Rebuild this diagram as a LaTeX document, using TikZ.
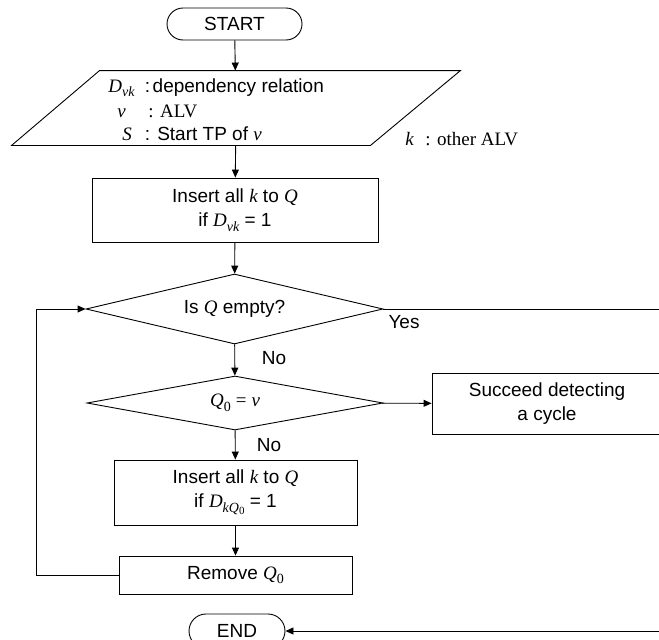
\RequirePackage{fix-cm}
\documentclass[tikz,border=0pt]{standalone}
\usepackage{fontspec}
\setmainfont{Liberation Sans}
\newfontfamily\tnr{Liberation Serif}
\newcommand\mi[1]{{\tnr\itshape #1}}
\newcommand\msub[1]{\raisebox{-4.5pt}{\fontsize{14}{14}\selectfont\tnr\itshape #1}}
\newcommand\mzero{\raisebox{-4.5pt}{\fontsize{14}{14}\selectfont\tnr 0}}
\usetikzlibrary{shapes.geometric,arrows.meta}
\begin{document}
\begin{tikzpicture}[x=1pt,y=-1pt,
  font=\fontsize{19}{24}\selectfont,
  line width=0.9pt,
  box/.style={draw, rectangle, inner sep=0pt, align=center},
  term/.style={draw, rectangle, inner sep=0pt, rounded corners=16pt},
  dec/.style={draw, diamond, inner sep=0pt, aspect=4.2},
  arr/.style={-{Triangle[length=8pt,width=7pt]}},
  lbl/.style={inner sep=0pt, anchor=base west}]
\clip (0,0) rectangle (659,640);
\useasboundingbox (0,0) rectangle (659,640);

% nodes
\node[term, minimum width=135pt, minimum height=32pt] (start) at (234.5,24) {START};
\node[inner sep=0pt, minimum width=448pt, minimum height=74pt] (io) at (236,108) {};
\draw (io.north west) ++(88,0) -- (io.north east) -- ([xshift=-90pt]io.south east) -- (io.south west) -- cycle;
\node[lbl] (d1s) at (108,92) {\mi{D}\msub{vk}};
\node[lbl] (d1t) at (144.5,92) {:\kern2.5pt dependency relation};
\node[lbl] (d2s) at (117,117) {\mi{v}};
\node[lbl] (d2t) at (148,117) {\tnr : ALV};
\node[lbl] (d3s) at (122,140) {\mi{S}};
\node[lbl] (d3t) at (144.5,140) {: Start TP of \mi{v}};
\node[lbl] (k1) at (405,145) {\mi{k}};
\node[lbl] (k2) at (425,145) {\tnr : other ALV};

\node[box, minimum width=286pt, minimum height=64pt] (ins1) at (235,210) {Insert all \mi{k} to \mi{Q}\\ if \mi{D}\msub{vk} = 1};
\node[dec, minimum width=297pt, minimum height=70pt] (emp) at (234.5,309) {Is \mi{Q} empty?};
\node[dec, minimum width=296pt, minimum height=54pt] (eq) at (235,403) {\mi{Q}\mzero\kern5pt{\tnr =}\kern5pt\mi{v}};
\node[box, minimum width=230pt, minimum height=61pt] (succ) at (547,403.5) {Succeed detecting\\ a cycle};
\node[box, minimum width=243pt, minimum height=65pt] (ins2) at (235.5,492.5) {Insert all \mi{k} to \mi{Q}\\ if \mi{D}\msub{kQ}\raisebox{-7pt}{\fontsize{11}{11}\selectfont\tnr 0} = 1};
\node[box, minimum width=233pt, minimum height=38pt] (rem) at (235.5,575) {Remove \mi{Q}\mzero};
\node[term, rounded corners=17pt, minimum width=96pt, minimum height=34pt] (end) at (237,631) {END};

\node[inner sep=0pt] (yes) at (404,322) {Yes};
\node[inner sep=0pt] (no1) at (274,358) {No};
\node[inner sep=0pt] (no2) at (269,445) {No};

\coordinate (rc) at (663,309);
\coordinate (lc) at (36,575);

% connectors
\draw[arr] (start) -- (io);
\draw[arr] (io) -- (ins1);
\draw[arr] (ins1) -- (emp);
\draw[arr] (emp) -- (eq);
\draw[arr] (eq) -- (succ);
\draw[arr] (eq) -- (ins2);
\draw[arr] (ins2) -- (rem);
\draw[arr] (rem.west) -- (lc) |- (emp.west);
\draw[arr] (emp.east) -- (rc) |- (end.east);
\end{tikzpicture}
\end{document}
